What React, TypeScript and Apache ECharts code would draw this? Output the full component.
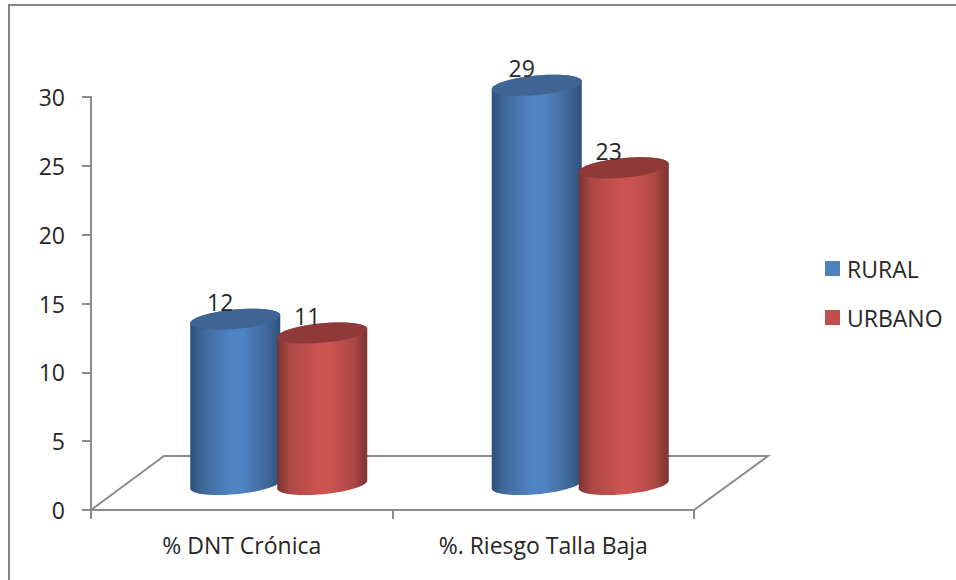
import React, { useEffect, useRef } from "react";
import * as echarts from "echarts";

const categories = ["% DNT Crónica", "%. Riesgo Talla Baja"];
const rural = [12, 29];
const urbano = [11, 23];
const yTicks = { min: 0, max: 30, interval: 5 };
const FONT = "'Open Sans', 'Noto Sans', sans-serif";
const FS = 23;
const TEXT = "#262626";
const AXIS = "#8c8c8c";

const RX = 45, RY = 9.8, TILT = -4 / 45, DEPTH_X = -6.5, DEPTH_Y = 25.5, SEP = 87;

function arc(cx: number, cy: number, from: number, to: number) {
  const pts: number[][] = [];
  const n = 40;
  for (let i = 0; i <= n; i++) {
    const t = from + ((to - from) * i) / n;
    pts.push([cx + RX * Math.cos(t), cy + RY * Math.sin(t) + TILT * RX * Math.cos(t)]);
  }
  return pts;
}

function sideGradient(edge: string, mid: string, edgeLight: string) {
  return new echarts.graphic.LinearGradient(0, 0, 1, 0, [
    { offset: 0, color: edge },
    { offset: 0.14, color: edgeLight },
    { offset: 0.45, color: mid },
    { offset: 0.58, color: mid },
    { offset: 0.85, color: edgeLight },
    { offset: 1, color: edge },
  ]);
}

function cylinder(slot: number, edge: string, mid: string, edgeLight: string, cap: string) {
  return (params: any, api: any) => {
    const cat = api.value(0);
    const val = api.value(1);
    const base = api.coord([cat, 0]);
    const top = api.coord([cat, val]);
    const cx = base[0] + DEPTH_X + slot * SEP;
    const by = base[1] - DEPTH_Y;
    const ty = top[1] - DEPTH_Y;
    const sidePts = [...arc(cx, ty, Math.PI, 2 * Math.PI), ...arc(cx, by, 0, Math.PI)];
    return {
      type: "group",
      children: [
        {
          type: "polygon",
          shape: { points: sidePts },
          style: { fill: sideGradient(edge, mid, edgeLight) },
        },
        {
          type: "polygon",
          shape: { points: arc(cx, ty, 0, 2 * Math.PI) },
          style: { fill: cap },
        },
        {
          type: "text",
          x: cx - 15,
          y: ty - 17,
          style: {
            text: String(val),
            font: `${FS}px ${FONT}`,
            fill: TEXT,
            align: "center",
            verticalAlign: "middle",
          },
          z2: 10,
        },
      ],
    };
  };
}

export default function App() {
  const ref = useRef<HTMLDivElement>(null);
  useEffect(() => {
    const chart = echarts.init(ref.current!, null, { renderer: "svg" });
    chart.setOption({
      animation: false,
      backgroundColor: "#ffffff",
      grid: { left: 91, right: 262, top: 97, bottom: 70 },
      legend: {
        orient: "vertical",
        left: 825,
        top: 257,
        padding: 0,
        itemWidth: 15,
        itemHeight: 15,
        itemGap: 26,
        icon: "rect",
        data: ["RURAL", "URBANO"],
        textStyle: { fontFamily: FONT, fontSize: FS, color: TEXT, padding: [0, 0, 0, 2] },
      },
      xAxis: {
        type: "category",
        data: categories,
        boundaryGap: true,
        axisLine: { lineStyle: { color: AXIS, width: 2 } },
        axisTick: { show: true, length: 9, lineStyle: { color: AXIS, width: 2 } },
        axisLabel: { fontFamily: FONT, fontSize: FS, color: TEXT, margin: 23 },
      },
      yAxis: {
        type: "value",
        ...yTicks,
        splitLine: { show: false },
        axisLine: { show: true, lineStyle: { color: AXIS, width: 2 } },
        axisTick: { show: true, length: 9, lineStyle: { color: AXIS, width: 2 } },
        axisLabel: { fontFamily: FONT, fontSize: FS, color: TEXT, margin: 26 },
      },
      graphic: [
        {
          type: "polyline",
          z: 0,
          shape: { points: [[91, 510], [164, 456], [768, 456], [694, 510]] },
          style: { stroke: AXIS, lineWidth: 2, fill: "none" },
        },
        {
          type: "polyline",
          z: 0,
          shape: { points: [[9, 580], [9, 5], [956, 5]] },
          style: { stroke: "#868686", lineWidth: 2, fill: "none" },
        },
      ],
      series: [
        {
          name: "RURAL",
          type: "custom",
          coordinateSystem: "cartesian2d",
          encode: { x: 0, y: 1 },
          itemStyle: { color: "#4f81bd" },
          renderItem: cylinder(0, "#2d5078", "#4f83c3", "#40699b", "#3e6593"),
          data: rural.map((v, i) => [i, v]),
        },
        {
          name: "URBANO",
          type: "custom",
          coordinateSystem: "cartesian2d",
          encode: { x: 0, y: 1 },
          itemStyle: { color: "#c0504d" },
          renderItem: cylinder(1, "#7a3230", "#cb5350", "#ad4846", "#8f3a38"),
          data: urbano.map((v, i) => [i, v]),
        },
      ],
    });
    return () => chart.dispose();
  }, []);
  return <div ref={ref} style={{ position: "absolute", left: 0, top: 0, width: 956, height: 580 }} />;
}
